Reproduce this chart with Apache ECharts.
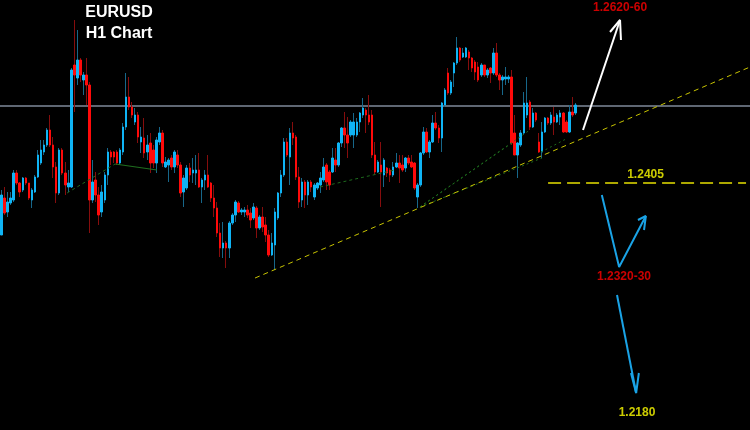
<!DOCTYPE html>
<html><head><meta charset="utf-8">
<script src="https://cdn.jsdelivr.net/npm/echarts@6/dist/echarts.min.js"></script>
<style>html,body{margin:0;padding:0;background:#000}#c{width:750px;height:430px}</style>
</head><body><div id="c"></div><script>
// ---- candle data (EURUSD H1) ----
const opens=[1.2353,1.2390,1.2376,1.2385,1.2388,1.2415,1.2405,1.2398,1.2410,1.2405,
1.2388,1.2396,1.2411,1.2425,1.2436,1.2443,1.2458,1.2443,1.2421,1.2395,
1.2438,1.2415,1.2401,1.2401,1.2523,1.2510,1.2528,1.2508,1.2513,1.2503,
1.2388,1.2408,1.2393,1.2376,1.2388,1.2413,1.2436,1.2436,1.2436,1.2425,
1.2436,1.2461,1.2491,1.2481,1.2466,1.2473,1.2446,1.2450,1.2436,1.2445,
1.2438,1.2425,1.2446,1.2455,1.2421,1.2423,1.2430,1.2421,1.2433,1.2423,
1.2396,1.2400,1.2420,1.2415,1.2415,1.2418,1.2401,1.2408,1.2413,1.2405,
1.2390,1.2380,1.2355,1.2340,1.2345,1.2340,1.2365,1.2373,1.2385,1.2376,
1.2376,1.2378,1.2375,1.2370,1.2380,1.2360,1.2371,1.2363,1.2353,1.2333,
1.2343,1.2370,1.2395,1.2413,1.2446,1.2431,1.2455,1.2451,1.2411,1.2388,
1.2406,1.2393,1.2406,1.2391,1.2400,1.2403,1.2408,1.2423,1.2416,1.2416,
1.2428,1.2423,1.2445,1.2460,1.2453,1.2453,1.2453,1.2453,1.2466,1.2473,
1.2478,1.2473,1.2473,1.2433,1.2416,1.2423,1.2413,1.2420,1.2418,1.2413,
1.2421,1.2425,1.2423,1.2420,1.2430,1.2426,1.2425,1.2391,1.2403,1.2435,
1.2456,1.2436,1.2446,1.2465,1.2460,1.2450,1.2483,1.2515,1.2495,1.2515,
1.2525,1.2540,1.2531,1.2531,1.2536,1.2530,1.2526,1.2521,1.2513,1.2523,
1.2513,1.2520,1.2515,1.2535,1.2513,1.2508,1.2509,1.2509,1.2511,1.2455,
1.2433,1.2443,1.2455,1.2473,1.2486,1.2461,1.2475,1.2446,1.2436,1.2456,
1.2470,1.2465,1.2471,1.2466,1.2471,1.2475,1.2466,1.2456,1.2476,1.2475];
const closes=[1.2393,1.2375,1.2386,1.2390,1.2415,1.2405,1.2396,1.2410,1.2405,1.2390,
1.2398,1.2411,1.2433,1.2438,1.2443,1.2458,1.2443,1.2421,1.2395,1.2438,
1.2415,1.2403,1.2405,1.2518,1.2513,1.2528,1.2513,1.2513,1.2503,1.2388,
1.2406,1.2393,1.2373,1.2396,1.2413,1.2436,1.2431,1.2431,1.2425,1.2438,
1.2461,1.2491,1.2481,1.2473,1.2473,1.2451,1.2451,1.2435,1.2443,1.2425,
1.2425,1.2448,1.2455,1.2425,1.2426,1.2428,1.2421,1.2436,1.2423,1.2395,
1.2410,1.2420,1.2413,1.2418,1.2418,1.2401,1.2408,1.2413,1.2401,1.2390,
1.2380,1.2355,1.2340,1.2345,1.2340,1.2365,1.2373,1.2386,1.2376,1.2378,
1.2378,1.2373,1.2368,1.2381,1.2360,1.2371,1.2361,1.2353,1.2333,1.2345,
1.2376,1.2395,1.2413,1.2446,1.2433,1.2455,1.2450,1.2411,1.2386,1.2406,
1.2393,1.2406,1.2401,1.2403,1.2405,1.2410,1.2421,1.2406,1.2403,1.2430,
1.2423,1.2445,1.2460,1.2453,1.2445,1.2466,1.2466,1.2466,1.2475,1.2480,
1.2473,1.2466,1.2433,1.2416,1.2426,1.2416,1.2428,1.2415,1.2413,1.2421,
1.2425,1.2420,1.2418,1.2430,1.2425,1.2421,1.2400,1.2403,1.2435,1.2456,
1.2436,1.2446,1.2465,1.2460,1.2450,1.2485,1.2498,1.2495,1.2506,1.2525,
1.2540,1.2528,1.2535,1.2540,1.2530,1.2520,1.2516,1.2508,1.2523,1.2513,
1.2518,1.2515,1.2535,1.2513,1.2508,1.2511,1.2511,1.2511,1.2445,1.2433,
1.2445,1.2455,1.2485,1.2485,1.2461,1.2475,1.2468,1.2436,1.2456,1.2470,
1.2465,1.2473,1.2466,1.2473,1.2475,1.2456,1.2456,1.2476,1.2473,1.2483];
const lows=[1.2353,1.2373,1.2371,1.2383,1.2386,1.2403,1.2391,1.2396,1.2403,1.2388,
1.2380,1.2395,1.2410,1.2423,1.2433,1.2441,1.2441,1.2410,1.2385,1.2393,
1.2413,1.2393,1.2396,1.2400,1.2476,1.2503,1.2506,1.2493,1.2483,1.2355,
1.2385,1.2386,1.2363,1.2371,1.2385,1.2403,1.2423,1.2425,1.2423,1.2423,
1.2433,1.2458,1.2478,1.2470,1.2463,1.2445,1.2435,1.2430,1.2428,1.2415,
1.2420,1.2415,1.2443,1.2421,1.2420,1.2406,1.2418,1.2415,1.2420,1.2391,
1.2381,1.2398,1.2406,1.2405,1.2403,1.2400,1.2385,1.2398,1.2400,1.2386,
1.2371,1.2351,1.2331,1.2330,1.2320,1.2330,1.2363,1.2366,1.2375,1.2373,
1.2371,1.2370,1.2360,1.2368,1.2350,1.2358,1.2356,1.2346,1.2331,1.2332,
1.2318,1.2368,1.2391,1.2411,1.2431,1.2403,1.2443,1.2408,1.2380,1.2381,
1.2380,1.2383,1.2396,1.2388,1.2398,1.2395,1.2406,1.2398,1.2398,1.2415,
1.2416,1.2421,1.2441,1.2440,1.2430,1.2451,1.2440,1.2451,1.2456,1.2470,
1.2455,1.2463,1.2430,1.2413,1.2415,1.2381,1.2401,1.2411,1.2406,1.2411,
1.2420,1.2405,1.2416,1.2416,1.2423,1.2420,1.2398,1.2380,1.2401,1.2433,
1.2435,1.2430,1.2445,1.2458,1.2445,1.2436,1.2481,1.2493,1.2493,1.2501,
1.2523,1.2526,1.2530,1.2530,1.2518,1.2516,1.2508,1.2506,1.2511,1.2511,
1.2510,1.2505,1.2513,1.2511,1.2498,1.2493,1.2503,1.2505,1.2443,1.2433,
1.2410,1.2441,1.2453,1.2470,1.2458,1.2460,1.2466,1.2435,1.2430,1.2455,
1.2463,1.2463,1.2453,1.2465,1.2463,1.2455,1.2455,1.2455,1.2471,1.2473];
const highs=[1.2398,1.2401,1.2396,1.2396,1.2418,1.2418,1.2406,1.2411,1.2411,1.2405,
1.2400,1.2413,1.2438,1.2448,1.2448,1.2460,1.2473,1.2451,1.2426,1.2440,
1.2440,1.2426,1.2418,1.2520,1.2568,1.2558,1.2530,1.2516,1.2530,1.2506,
1.2428,1.2416,1.2401,1.2403,1.2416,1.2440,1.2438,1.2437,1.2438,1.2440,
1.2465,1.2515,1.2511,1.2486,1.2480,1.2476,1.2461,1.2470,1.2453,1.2455,
1.2443,1.2451,1.2461,1.2458,1.2431,1.2430,1.2433,1.2438,1.2438,1.2426,
1.2413,1.2423,1.2425,1.2430,1.2433,1.2435,1.2410,1.2418,1.2433,1.2406,
1.2403,1.2386,1.2365,1.2366,1.2347,1.2367,1.2375,1.2388,1.2387,1.2380,
1.2381,1.2383,1.2380,1.2385,1.2382,1.2373,1.2381,1.2371,1.2358,1.2355,
1.2380,1.2396,1.2418,1.2450,1.2450,1.2460,1.2466,1.2453,1.2421,1.2410,
1.2408,1.2408,1.2408,1.2405,1.2406,1.2416,1.2430,1.2425,1.2418,1.2440,
1.2440,1.2446,1.2461,1.2476,1.2471,1.2468,1.2475,1.2470,1.2476,1.2490,
1.2480,1.2493,1.2478,1.2446,1.2428,1.2446,1.2430,1.2421,1.2420,1.2426,
1.2435,1.2433,1.2433,1.2431,1.2433,1.2433,1.2426,1.2405,1.2436,1.2461,
1.2460,1.2448,1.2473,1.2476,1.2463,1.2486,1.2500,1.2520,1.2508,1.2526,
1.2551,1.2541,1.2540,1.2541,1.2538,1.2531,1.2528,1.2526,1.2525,1.2523,
1.2520,1.2521,1.2540,1.2545,1.2515,1.2513,1.2521,1.2513,1.2518,1.2473,
1.2446,1.2458,1.2496,1.2511,1.2488,1.2480,1.2476,1.2455,1.2466,1.2471,
1.2471,1.2476,1.2481,1.2475,1.2478,1.2476,1.2468,1.2483,1.2491,1.2485];

// ---- axis extents ----
const SLOTS = 247;                       // bar slots across the chart width
const priceMin = 1.2158, priceMax = 1.2588;
const categories = Array.from({length: SLOTS}, (_, i) => String(i));

// ---- annotation levels / lines (bar index, price) ----
const currentPrice = 1.2482;
const supportLevel = 1.2405;
const supportSpan = [180.0, 245.2];
const trendLine = [[83.5, 1.2310], [246.5, 1.2521]];
const greenDash1 = [[21.6, 1.2395], [37.4, 1.2424]];
const greenSolid = [[37.4, 1.2424], [51.2, 1.2418]];
const greenDash2 = [[104.9, 1.2401], [129.6, 1.2418]];
const fanLines = [
  [[137.8, 1.2381], [168.1, 1.2445]],
  [[137.8, 1.2381], [174.0, 1.2458]],
  [[137.8, 1.2381], [178.0, 1.2430]],
  [[177.7, 1.2436], [185.9, 1.2449]]
];
const whiteArrow = [[191.5, 1.2458], [203.7, 1.2568]];
const whiteHead = [[200.4, 1.2556], [203.7, 1.2568], [204.0, 1.2548]];
const blueZig = [[197.7, 1.2393], [203.4, 1.2321], [212.2, 1.2372]];
const blueZigHead = [[209.6, 1.2368], [212.2, 1.2372], [211.6, 1.2358]];
const blueDown = [[202.7, 1.2293], [209.0, 1.2195]];
const blueDownHead = [[207.3, 1.2215], [209.0, 1.2195], [209.9, 1.2215]];
const redLabels = [[203.7, 1.2580, '1.2620-60'], [205.0, 1.2311, '1.2320-30']];
const yellowLabels = [[212.1, 1.2413, '1.2405'], [209.3, 1.2175, '1.2180']];

const BULL = '#0fb4f5', BEAR = '#ff0a0a', BULL_W = '#17678a', BEAR_W = '#860d0d';

const wickData = opens.map((o, i) => [o, closes[i], lows[i], highs[i]]);
const bodyData = opens.map((o, i) => [o, closes[i], Math.min(o, closes[i]), Math.max(o, closes[i])]);

function seg(data, color, width, type, z) {
  return {type: 'line', xAxisIndex: 1, yAxisIndex: 0, data: data, symbol: 'none',
    silent: true, z: z || 3, lineStyle: {color: color, width: width, type: type || 'solid'}};
}
function labels(data, color) {
  return {type: 'scatter', xAxisIndex: 1, yAxisIndex: 0, data: data, symbolSize: 1, z: 6,
    itemStyle: {color: 'rgba(0,0,0,0)'}, silent: true,
    label: {show: true, position: 'inside', formatter: p => p.value[2], color: color,
      fontWeight: 'bold', fontSize: 12, fontFamily: 'Liberation Sans, Arial, sans-serif'}};
}

const chart = echarts.init(document.getElementById('c'), null, {renderer: 'canvas'});
const series = [
  seg([[-0.5, currentPrice], [246.5, currentPrice]], '#7f8a9a', 1.5, 'solid', 1),
  {type: 'candlestick', xAxisIndex: 0, yAxisIndex: 0, data: wickData, barWidth: 1, z: 2,
    itemStyle: {color: BULL_W, color0: BEAR_W, borderColor: BULL_W, borderColor0: BEAR_W, borderWidth: 1}},
  {type: 'candlestick', xAxisIndex: 0, yAxisIndex: 0, data: bodyData, barWidth: 2, z: 2,
    itemStyle: {color: BULL, color0: BEAR, borderColor: BULL, borderColor0: BEAR, borderWidth: 1}},
  seg(greenDash1, '#1d6b1d', 1, [3, 3]),
  seg(greenSolid, '#1f6e1f', 1.2, 'solid'),
  seg(greenDash2, '#1d6b1d', 1, [3, 3]),
  ...fanLines.map(l => seg(l, '#1d6b1d', 1, [2, 3])),
  seg(trendLine, '#c8c400', 1, [5, 4], 4),
  seg([[supportSpan[0], supportLevel], [supportSpan[1], supportLevel]], '#e6e000', 1.5, [13, 6], 4),
  seg(whiteArrow, '#ffffff', 2, 'solid', 5),
  seg(whiteHead, '#ffffff', 2, 'solid', 5),
  seg(blueZig, '#1aa3e6', 2, 'solid', 5),
  seg(blueZigHead, '#1aa3e6', 2, 'solid', 5),
  seg(blueDown, '#1aa3e6', 2, 'solid', 5),
  seg(blueDownHead, '#1aa3e6', 2, 'solid', 5),
  labels(redLabels, '#ff0000'),
  labels(yellowLabels, '#ffff00')
];

chart.setOption({
  animation: false,
  backgroundColor: '#000000',
  title: {text: 'EURUSD\nH1 Chart', left: 119, top: 2, padding: 0, textAlign: 'center',
    textStyle: {color: '#ffffff', fontSize: 16, fontWeight: 'bold', lineHeight: 21,
      fontFamily: 'Liberation Sans, Arial, sans-serif'}},
  grid: {left: 0, right: 0, top: 0, bottom: 0},
  xAxis: [
    {type: 'category', data: categories, boundaryGap: true, show: false},
    {type: 'value', min: -0.5, max: SLOTS - 0.5, show: false}
  ],
  yAxis: [{type: 'value', min: priceMin, max: priceMax, show: false, scale: true}],
  series: series
});
</script></body></html>
